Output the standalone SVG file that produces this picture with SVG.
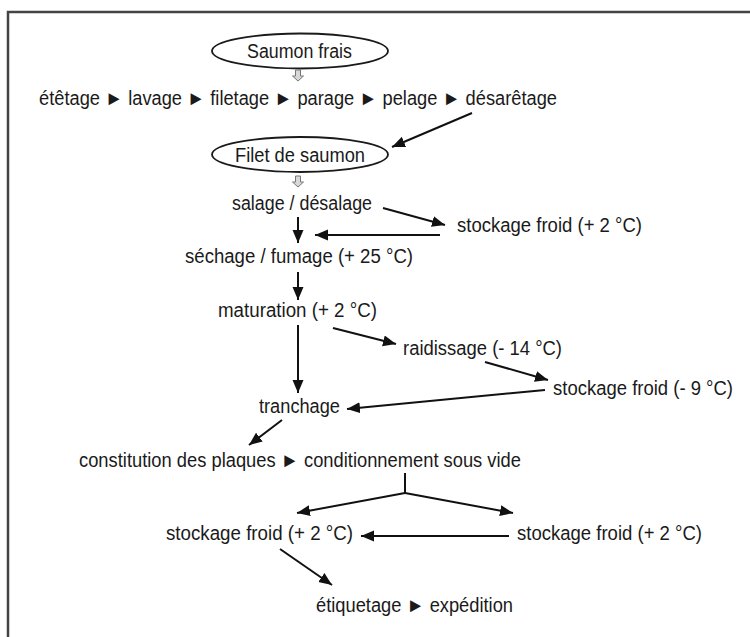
<svg xmlns="http://www.w3.org/2000/svg" width="750" height="637" viewBox="0 0 750 637">
  <style>
    text { font-family: "Liberation Sans", Arial, sans-serif; font-size: 20px; fill: #1a1a1a; }
    .oval { fill: #ffffff; stroke: #1a1a1a; stroke-width: 1.8; }
    .edge { stroke: #111; stroke-width: 2; fill: none; marker-end: url(#ah); }
    .plain { stroke: #111; stroke-width: 2; fill: none; }
    .hollow { fill: #d8d8d8; stroke: #777; stroke-width: 1; }
    .frame { stroke: #444; stroke-width: 2.5; fill: none; }
  </style>
  <defs>
    <marker id="ah" markerUnits="userSpaceOnUse" markerWidth="14" markerHeight="12" refX="13" refY="5.5" orient="auto">
      <path d="M0,0 L13,5.5 L0,11 z" fill="#111"/>
    </marker>
    <path id="hollowArrow" d="M-2.5,0 L2.5,0 L2.5,6 L5.5,6 L0,11 L-5.5,6 L-2.5,6 z"/>
  </defs>
  <rect width="750" height="637" fill="#ffffff"/>
  <path class="frame" d="M8,637 L8,12 L750,12"/>

  <g id="n-saumon-frais">
    <ellipse class="oval" cx="300" cy="51" rx="88" ry="17.5"/>
    <text x="247" y="58" textLength="105" lengthAdjust="spacingAndGlyphs">Saumon frais</text>
  </g>
  <g id="n-etapes-preparation">
    <text x="39" y="105" textLength="518" lengthAdjust="spacingAndGlyphs">étêtage ► lavage ► filetage ► parage ► pelage ► désarêtage</text>
  </g>
  <g id="n-filet-saumon">
    <ellipse class="oval" cx="300" cy="154.5" rx="88" ry="17.5"/>
    <text x="235" y="162" textLength="130" lengthAdjust="spacingAndGlyphs">Filet de saumon</text>
  </g>
  <g id="n-salage">
    <text x="232" y="210" textLength="140" lengthAdjust="spacingAndGlyphs">salage / désalage</text>
  </g>
  <g id="n-stockage-1">
    <text x="457" y="232" textLength="185" lengthAdjust="spacingAndGlyphs">stockage froid (+ 2 °C)</text>
  </g>
  <g id="n-sechage">
    <text x="185" y="263" textLength="228" lengthAdjust="spacingAndGlyphs">séchage / fumage (+ 25 °C)</text>
  </g>
  <g id="n-maturation">
    <text x="218" y="317" textLength="159" lengthAdjust="spacingAndGlyphs">maturation (+ 2 °C)</text>
  </g>
  <g id="n-raidissage">
    <text x="403" y="355" textLength="159" lengthAdjust="spacingAndGlyphs">raidissage (- 14 °C)</text>
  </g>
  <g id="n-stockage-2">
    <text x="553" y="395" textLength="180" lengthAdjust="spacingAndGlyphs">stockage froid (- 9 °C)</text>
  </g>
  <g id="n-tranchage">
    <text x="259" y="413" textLength="81" lengthAdjust="spacingAndGlyphs">tranchage</text>
  </g>
  <g id="n-constitution">
    <text x="79" y="467" textLength="442" lengthAdjust="spacingAndGlyphs">constitution des plaques ► conditionnement sous vide</text>
  </g>
  <g id="n-stockage-3">
    <text x="166" y="540" textLength="187" lengthAdjust="spacingAndGlyphs">stockage froid (+ 2 °C)</text>
  </g>
  <g id="n-stockage-4">
    <text x="517" y="540" textLength="185" lengthAdjust="spacingAndGlyphs">stockage froid (+ 2 °C)</text>
  </g>
  <g id="n-etiquetage">
    <text x="316" y="612" textLength="197" lengthAdjust="spacingAndGlyphs">étiquetage ► expédition</text>
  </g>

  <g id="connectors">
    <use href="#hollowArrow" class="hollow" x="298" y="70"/>
    <use href="#hollowArrow" class="hollow" x="298" y="176"/>
    <line class="edge" x1="472" y1="113" x2="392" y2="147"/>
    <line class="edge" x1="383" y1="208" x2="445" y2="225"/>
    <line class="edge" x1="440" y1="235" x2="315" y2="235"/>
    <line class="edge" x1="298" y1="217" x2="298" y2="243"/>
    <line class="edge" x1="298" y1="272" x2="298" y2="300"/>
    <line class="edge" x1="298" y1="325" x2="298" y2="393"/>
    <line class="edge" x1="333" y1="328" x2="396" y2="344"/>
    <line class="edge" x1="485" y1="362" x2="548" y2="380"/>
    <line class="edge" x1="545" y1="390" x2="347" y2="409"/>
    <line class="edge" x1="282" y1="420" x2="249" y2="445"/>
    <line class="plain" x1="405" y1="473" x2="405" y2="493"/>
    <line class="edge" x1="405" y1="493" x2="297" y2="513"/>
    <line class="edge" x1="405" y1="493" x2="513" y2="513"/>
    <line class="edge" x1="509" y1="536" x2="361" y2="536"/>
    <line class="edge" x1="280" y1="549" x2="332" y2="585"/>
  </g>
</svg>
